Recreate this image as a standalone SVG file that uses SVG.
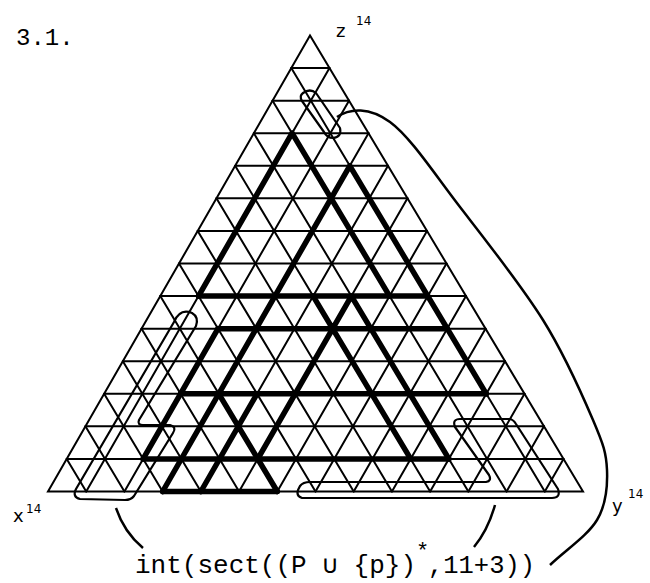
<svg xmlns="http://www.w3.org/2000/svg" width="650" height="583" viewBox="0 0 650 583">
<style>
.g{stroke:#000;stroke-width:2;fill:none;stroke-linecap:round}
.t{stroke:#000;stroke-width:5.5;fill:none;stroke-linecap:round}
.lp{stroke:#000;stroke-width:2.2;fill:none;stroke-linejoin:round}
.lbl{font-family:"Liberation Mono","DejaVu Sans Mono",monospace;fill:#000}
.hw{font-family:"DejaVu Sans","Liberation Sans",sans-serif;fill:#000}
</style>
<rect width="650" height="583" fill="#fff"/>
<g id="grid" class="g">
<polygon points="310,35.5 48,491.5 583,491.5"/>
<path d="M291.29,68.07H329.5M272.57,100.64H349M253.86,133.21H368.5M235.14,165.79H388M216.43,198.36H407.5M197.71,230.93H427M179,263.5H446.5M160.29,296.07H466M141.57,328.64H485.5M122.86,361.21H505M104.14,393.79H524.5M85.43,426.36H544M66.71,458.93H563.5"/>
<path d="M329.5,68.07L86.21,491.5M349,100.64L124.43,491.5M368.5,133.21L162.64,491.5M388,165.79L200.86,491.5M407.5,198.36L239.07,491.5M427,230.93L277.29,491.5M446.5,263.5L315.5,491.5M466,296.07L353.71,491.5M485.5,328.64L391.93,491.5M505,361.21L430.14,491.5M524.5,393.79L468.36,491.5M544,426.36L506.57,491.5M563.5,458.93L544.79,491.5"/>
<path d="M291.29,68.07L544.79,491.5M272.57,100.64L506.57,491.5M253.86,133.21L468.36,491.5M235.14,165.79L430.14,491.5M216.43,198.36L391.93,491.5M197.71,230.93L353.71,491.5M179,263.5L315.5,491.5M160.29,296.07L277.29,491.5M141.57,328.64L239.07,491.5M122.86,361.21L200.86,491.5M104.14,393.79L162.64,491.5M85.43,426.36L124.43,491.5M66.71,458.93L86.21,491.5"/>
</g>
<g id="thick" class="t">
<path d="M292.07,133.21L198.5,296.07M292.07,133.21L389.57,296.07"/>
<path d="M349.79,165.79L162.64,491.5M349.79,165.79L486.29,393.79"/>
<path d="M351.36,296.07L257.79,458.93M351.36,296.07L448.86,458.93M313.14,296.07L410.64,458.93"/>
<path d="M198.5,296.07H427.79M217.99,328.64H447.29M180.57,393.79H486.29M143.14,458.93H448.86M162.64,491.5H277.29"/>
<path d="M218.79,393.79L277.29,491.5M257,393.79L200.86,491.5M217.99,328.64L143.14,458.93"/>
</g>
<g id="loops" class="lp">
<path id="loop-top" d="M303,93 Q310,88 316,93 L340,128 Q342,137 333,138 Q327,138 324,132 L302,101 Q299,96 303,93 Z"/>
<path id="loop-left" d="M174,322 Q180,308 192,313 Q199,317 196,326 L139,420 Q137,425 143,425 L170,425 Q177,427 173,433 L134,496 Q131,500 125,500 L80,499 Q72,497 76,489 Z"/>
<path id="loop-right" d="M300,486 Q303,482 310,482 L486,482 Q492,481 489,475 L455,427 Q452,419 460,419 L509,419 Q513,419 516,424 L558,489 Q561,498 552,498 L302,498 Q296,496 298,490 Z"/>
</g>
<g id="connectors" class="lp">
<path d="M337,117 C350,108 369.5,107 390,122 C410.5,137 434.5,174 460,207 C485.5,240 520.8,284.5 543,320 C565.2,355.5 582.3,395 593,420 C603.7,445 606.3,453.3 607,470 C607.7,486.7 606.5,504.2 597,520 C587.5,535.8 565.7,550 550,565" stroke-width="2.5"/>
<path d="M116,508 Q124,532 143,548" stroke-width="2.5"/>
<path d="M495,505 Q488,530 474,547" stroke-width="2.5"/>
</g>
<g id="labels">
<text class="lbl" x="16" y="45" font-size="24">3.1.</text>
<text class="hw" x="336" y="37" font-size="18">z</text>
<text class="hw" x="356" y="25" font-size="12">14</text>
<text class="hw" x="13" y="522" font-size="18">x</text>
<text class="hw" x="26" y="513" font-size="12">14</text>
<text class="hw" x="612" y="512" font-size="18">y</text>
<text class="hw" x="628" y="498" font-size="12">14</text>
<text class="lbl" x="135" y="573" font-size="25" textLength="281" lengthAdjust="spacingAndGlyphs">int(sect((P ∪ {p})</text>
<text class="lbl" x="416" y="558" font-size="22">*</text>
<text class="lbl" x="428" y="573" font-size="25" textLength="107" lengthAdjust="spacingAndGlyphs">,11+3))</text>
</g>
</svg>
